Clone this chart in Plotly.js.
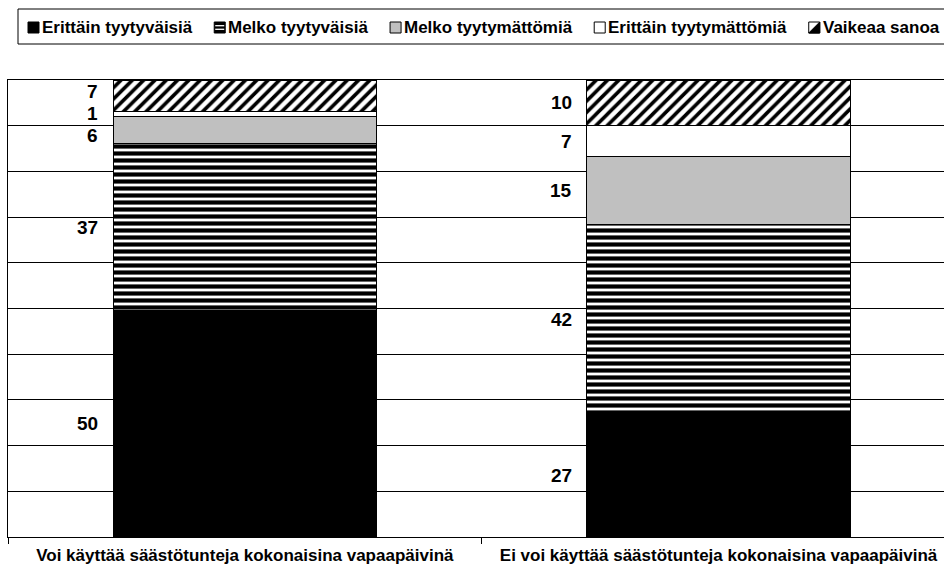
<!DOCTYPE html>
<html><head><meta charset="utf-8">
<script src="https://cdn.plot.ly/plotly-3.0.1.min.js"></script>
<style>html,body{margin:0;padding:0;background:#fff}#chart{width:944px;height:574px}</style>
</head><body><div id="chart"></div>
<script>
// ---- data ----
const categories = ['Voi käyttää säästötunteja kokonaisina vapaapäivinä', 'Ei voi käyttää säästötunteja kokonaisina vapaapäivinä'];
const seriesNames = ['Erittäin tyytyväisiä', 'Melko tyytyväisiä', 'Melko tyytymättömiä', 'Erittäin tyytymättömiä', 'Vaikeaa sanoa'];
const erittainTyytyvaisia = [50, 27];
const melkoTyytyvaisia = [37, 42];
const melkoTyytymattomia = [6, 15];
const erittainTyytymattomia = [1, 7];
const vaikeaaSanoa = [7, 10];
const seriesValues = [erittainTyytyvaisia, melkoTyytyvaisia, melkoTyytymattomia, erittainTyytymattomia, vaikeaaSanoa];

// ---- style ----
const FONT = 'Arial, "Liberation Sans", sans-serif';
const W = 944, H = 574;
const M = {l: 8, r: 0, t: 80, b: 37};
const PW = W - M.l - M.r, PH = H - M.t - M.b;
const BAR_W = 0.556;
const XRANGE = [-0.5, 1.476];
const LABEL_SIZE = 19, LABEL_MIN_GAP = 22;
const styles = [
  {color: '#000000'},
  {color: '#ffffff', pattern: {shape: '-', fgcolor: '#000000', bgcolor: '#ffffff', size: 7, solidity: 0.6, fillmode: 'replace'}},
  {color: '#c0c0c0'},
  {color: '#ffffff'},
  {color: '#ffffff', pattern: {shape: '/', fgcolor: '#000000', bgcolor: '#ffffff', size: 8, solidity: 0.45, fillmode: 'replace'}}
];

const traces = seriesValues.map((vals, i) => ({
  type: 'bar',
  name: seriesNames[i],
  x: categories,
  y: vals,
  width: BAR_W,
  marker: Object.assign({}, styles[i], {line: {color: '#000000', width: 1}}),
  showlegend: false,
  hoverinfo: 'skip'
}));

// value labels left of each segment; crowded labels are spread apart around their mean
const annotations = [];
categories.forEach((c, j) => {
  const total = seriesValues.reduce((s, v) => s + v[j], 0);
  let cum = 0;
  const labs = seriesValues.map(vals => {
    const v = vals[j];
    const yv = (cum + v / 2) / total * 100;
    cum += v;
    return {v: v, y: yv, py: PH * (1 - yv / 100)};
  });
  // cluster spreading (py grows downward); labs ordered bottom -> top, so reverse
  let clusters = labs.slice().reverse().map(l => ({items: [l], mean: l.py}));
  let merged = true;
  const place = cl => {
    const n = cl.items.length;
    return cl.items.map((it, k) => cl.mean + (k - (n - 1) / 2) * LABEL_MIN_GAP);
  };
  while (merged) {
    merged = false;
    for (let k = 0; k < clusters.length - 1; k++) {
      const a = clusters[k], b = clusters[k + 1];
      const pa = place(a), pb = place(b);
      if (pb[0] - pa[pa.length - 1] < LABEL_MIN_GAP) {
        const items = a.items.concat(b.items);
        clusters.splice(k, 2, {items: items, mean: items.reduce((s, it) => s + it.py, 0) / items.length});
        merged = true;
        break;
      }
    }
  }
  clusters.forEach(cl => {
    const pos = place(cl);
    cl.items.forEach((it, k) => {
      annotations.push({
        x: j - BAR_W / 2, y: it.y, xref: 'x', yref: 'y',
        text: String(it.v), showarrow: false, xanchor: 'right', yanchor: 'middle',
        xshift: -13, yshift: -(pos[k] - it.py),
        font: {family: FONT, size: LABEL_SIZE, color: '#000000', weight: 'bold'}
      });
    });
  });
});

// custom legend (one row, boxed)
const px2x = px => (px - M.l) / PW;
const px2y = py => (M.t + PH - py) / PH;
const ctx = document.createElement('canvas').getContext('2d');
const LEG_FONT = 17;
ctx.font = 'bold ' + LEG_FONT + 'px ' + FONT;
const widths = seriesNames.map(n => ctx.measureText(n).width);
const SW = 11, TXT_OFF = 14, startX = 28, endX = 939;
let gap = (endX - startX - widths.reduce((s, w) => s + w + TXT_OFF, 0)) / 4;
if (gap < 8) gap = 8;
const legCy = 27.5;
const shapes = [{
  type: 'rect', xref: 'paper', yref: 'paper',
  x0: px2x(18), x1: px2x(947), y0: px2y(44), y1: px2y(9),
  line: {color: '#000000', width: 1}, fillcolor: 'rgba(0,0,0,0)', layer: 'above'
}];
let cx = startX;
seriesNames.forEach((n, i) => {
  const x0 = cx, x1 = cx + SW, y0 = legCy + SW / 2, y1 = legCy - SW / 2;
  const fill = i === 0 ? '#000000' : i === 1 ? '#000000' : i === 2 ? '#c0c0c0' : '#ffffff';
  shapes.push({type: 'rect', xref: 'paper', yref: 'paper', x0: px2x(x0), x1: px2x(x1), y0: px2y(y0), y1: px2y(y1),
    fillcolor: fill, line: {color: '#000000', width: 1}});
  if (i === 1) {
    [legCy - 1.8, legCy + 1.8].forEach(yy => shapes.push({type: 'line', xref: 'paper', yref: 'paper',
      x0: px2x(x0 + 1), x1: px2x(x1 - 1), y0: px2y(yy), y1: px2y(yy), line: {color: '#ffffff', width: 1.3}}));
  }
  if (i === 4) {
    shapes.push({type: 'path', xref: 'paper', yref: 'paper',
      path: 'M' + px2x(x0) + ',' + px2y(y0) + ' L' + px2x(x1) + ',' + px2y(y0) + ' L' + px2x(x1) + ',' + px2y(y1) + ' Z',
      fillcolor: '#000000', line: {color: '#000000', width: 1}});
  }
  annotations.push({xref: 'paper', yref: 'paper', x: px2x(cx + TXT_OFF - 2), y: px2y(legCy), xanchor: 'left', yanchor: 'middle',
    text: n, showarrow: false, font: {family: FONT, size: LEG_FONT, color: '#000000', weight: 'bold'}});
  cx += TXT_OFF + widths[i] + gap;
});

const layout = {
  width: W, height: H,
  margin: M,
  paper_bgcolor: '#ffffff', plot_bgcolor: '#ffffff',
  barmode: 'stack', barnorm: 'percent',
  showlegend: false,
  font: {family: FONT, color: '#000000'},
  xaxis: {
    type: 'category', range: XRANGE, showgrid: false, zeroline: false,
    showline: true, mirror: true, linecolor: '#000000', linewidth: 1,
    ticks: 'outside', tickson: 'boundaries', ticklen: 6, tickcolor: '#000000', tickwidth: 1,
    ticklabelstandoff: 3,
    tickfont: {family: FONT, size: 17, color: '#000000', weight: 'bold'}, fixedrange: true
  },
  yaxis: {
    range: [0, 100], dtick: 10, tick0: 0, showticklabels: false, ticks: '',
    showgrid: true, gridcolor: '#000000', gridwidth: 1, zeroline: false,
    showline: true, linecolor: '#000000', linewidth: 1, fixedrange: true
  },
  annotations: annotations,
  shapes: shapes
};

Plotly.newPlot('chart', traces, layout, {displayModeBar: false, staticPlot: true});
</script>
</body></html>
